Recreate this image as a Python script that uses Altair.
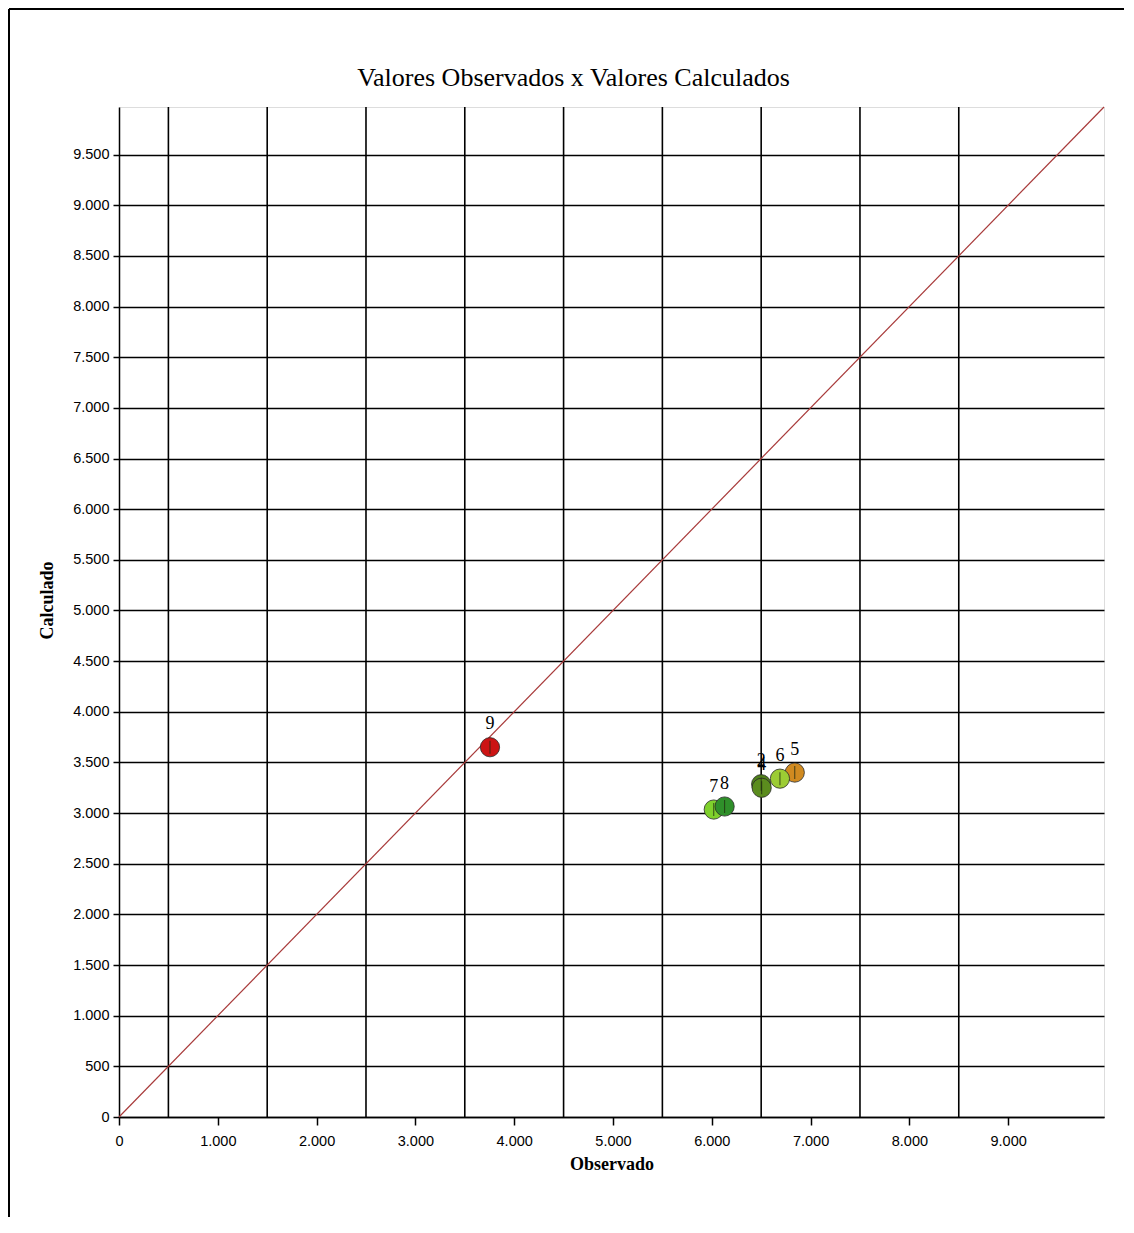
import altair as alt
import pandas as pd

# Data
point_ids = ["9", "2", "4", "5", "6", "7", "8"]
observado = [3755, 6500, 6505, 6840, 6690, 6020, 6130]
calculado = [3650, 3285, 3250, 3400, 3340, 3035, 3065]
colors = ["#cc1414", "#4f7f1a", "#5b8c1e", "#d08a20", "#9ccc34", "#7fd02c", "#2f8f2a"]

axis_max = 9970
x_tick_values = [0, 1000, 2000, 3000, 4000, 5000, 6000, 7000, 8000, 9000]
y_tick_values = [0, 500, 1000, 1500, 2000, 2500, 3000, 3500, 4000, 4500, 5000,
                 5500, 6000, 6500, 7000, 7500, 8000, 8500, 9000, 9500]
x_grid_values = [500, 1500, 2500, 3500, 4500, 5500, 6500, 7500, 8500]
diag_ends = [0, axis_max]

W, H = 985, 1010

df = pd.DataFrame({"id": point_ids, "obs": observado, "calc": calculado, "color": colors})
grid_df = pd.DataFrame({"gx": x_grid_values})
diag_df = pd.DataFrame({"v": diag_ends})

label_expr = "replace(format(datum.value, ',d'), ',', '.')"
tick_font = "Liberation Sans Narrow, Liberation Sans, Arial"

xscale = alt.Scale(domain=[0, axis_max], nice=False, zero=True)
yscale = alt.Scale(domain=[0, axis_max], nice=False, zero=True)

x_axis = alt.Axis(values=x_tick_values, labelExpr=label_expr, grid=False,
                  title="Observado", titleFont="Liberation Serif", titleFontSize=18,
                  titleFontWeight="bold", titleColor="black", titlePadding=8,
                  labelFont=tick_font, labelFontSize=14.5, labelColor="black",
                  labelPadding=9, tickSize=8, tickColor="black", tickWidth=1.5,
                  domainColor="black", domainWidth=1.5, labelFlush=False)
y_axis = alt.Axis(values=y_tick_values, labelExpr=label_expr, grid=True,
                  gridColor="black", gridWidth=1.6, gridOpacity=1,
                  title="Calculado", titleFont="Liberation Serif", titleFontSize=18,
                  titleFontWeight="bold", titleColor="black",
                  titleX=-63, titleY=493,
                  labelFont=tick_font, labelFontSize=14.5, labelColor="black",
                  labelPadding=4, tickSize=6, tickColor="black", tickWidth=1.5,
                  domainColor="black", domainWidth=1.5, labelFlush=False)

base = alt.Chart(df)

grid = alt.Chart(grid_df).mark_rule(color="black", strokeWidth=1.6).encode(
    x=alt.X("gx:Q", scale=xscale, axis=x_axis),
)

diag = alt.Chart(diag_df).mark_line(color="#a83a3a", strokeWidth=1.2).encode(
    x=alt.X("v:Q", scale=xscale),
    y=alt.Y("v:Q", scale=yscale, axis=y_axis),
)

points = base.mark_point(filled=True, size=370, opacity=1, stroke="#2a2a2a",
                         strokeWidth=0.8, shape="circle").encode(
    x=alt.X("obs:Q", scale=xscale),
    y=alt.Y("calc:Q", scale=yscale),
    fill=alt.Fill("color:N", scale=None),
)

inner_ticks = base.mark_tick(orient="vertical", size=13, thickness=1,
                             color="#1e2a10", opacity=0.8).encode(
    x=alt.X("obs:Q", scale=xscale),
    y=alt.Y("calc:Q", scale=yscale),
)

labels = base.mark_text(dy=-23, font="Liberation Serif", fontSize=18,
                        color="black").encode(
    x=alt.X("obs:Q", scale=xscale),
    y=alt.Y("calc:Q", scale=yscale),
    text="id:N",
)

frame_left = alt.Chart(alt.Data(values=[{}])).mark_rule(color="black", strokeWidth=2).encode(
    x=alt.value(-110), y=alt.value(-98), y2=alt.value(H + 100)
)
frame_top = alt.Chart(alt.Data(values=[{}])).mark_rule(color="black", strokeWidth=2).encode(
    x=alt.value(-110), x2=alt.value(W + 20), y=alt.value(-98)
)

chart = alt.layer(grid, diag, points, inner_ticks, labels, frame_left, frame_top).properties(
    width=W, height=H,
    title=alt.TitleParams("Valores Observados x Valores Calculados",
                          font="Liberation Serif", fontSize=26, fontWeight="normal",
                          color="black", offset=16, dy=99, dx=-38, anchor="middle"),
    autosize=alt.AutoSizeParams(type="none"),
    padding={"left": 111, "top": 99, "right": 20, "bottom": 100},
).configure_view(stroke="black", strokeWidth=1.5).configure(background="white")

chart.save("out.html", embed_options={"renderer": "svg", "actions": False})
